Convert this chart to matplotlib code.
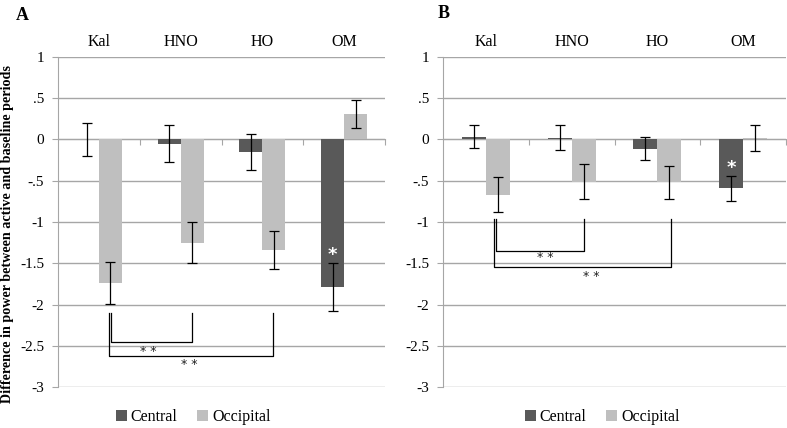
import numpy as np
import matplotlib
matplotlib.use('Agg')
import matplotlib.pyplot as plt

plt.rcParams['font.family'] = ['Liberation Serif', 'DejaVu Serif']

# Data
groups = ['Kal', 'HNO', 'HO', 'OM']
ytick_vals = [1, 0.5, 0, -0.5, -1, -1.5, -2, -2.5, -3]
ytick_text = ['1', '.5', '0', '-.5', '-1', '-1.5', '-2', '-2.5', '-3']

# panel A
a_central = [0.0, -0.05, -0.15, -1.79]
a_central_err = [0.20, 0.22, 0.22, 0.29]
a_occip = [-1.74, -1.25, -1.34, 0.31]
a_occip_err = [0.25, 0.25, 0.23, 0.17]
a_star = -1.40
# brackets: (x_left, x_right, y_top, y_bottom, label x, label y)
a_brackets = [(0.147, 1.135, -2.10, -2.46, 0.61, -2.57),
              (0.120, 2.130, -2.10, -2.63, 1.11, -2.73)]

# panel B
b_central = [0.035, 0.02, -0.11, -0.59]
b_central_err = [0.14, 0.15, 0.135, 0.15]
b_occip = [-0.67, -0.51, -0.52, 0.02]
b_occip_err = [0.21, 0.21, 0.20, 0.155]
b_star = -0.34
b_brackets = [(0.116, 1.14, -0.96, -1.35, 0.69, -1.43),
              (0.093, 2.16, -0.96, -1.54, 1.23, -1.66)]

dark = '#595959'
light = '#bfbfbf'
grid_c = '#a6a6a6'
w = 0.28

fig = plt.figure(figsize=(7.87, 4.28), dpi=100)


def draw_panel(ax, central, c_err, occip, o_err, star_y, brackets, legend_x):
    x = np.arange(len(groups))
    b1 = ax.bar(x - w / 2, central, w, color=dark, label='Central', zorder=3)
    b2 = ax.bar(x + w / 2, occip, w, color=light, label='Occipital', zorder=3)
    ax.errorbar(x - w / 2, central, yerr=c_err, fmt='none', ecolor='black',
                elinewidth=0.9, capsize=3.5, capthick=0.9, zorder=4)
    ax.errorbar(x + w / 2, occip, yerr=o_err, fmt='none', ecolor='black',
                elinewidth=0.9, capsize=3.5, capthick=0.9, zorder=4)
    ax.text(3 - w / 2, star_y, '*', color='white', fontsize=13,
            fontweight='bold', ha='center', va='center', zorder=5,
            family='DejaVu Sans')

    for xl, xr, yt, yb, tx, ty in brackets:
        ax.plot([xl, xl, xr, xr], [yt, yb, yb, yt], color='black', lw=0.9,
                zorder=4)
        ax.text(tx, ty, '* *', fontsize=9, ha='center', va='center',
                family='DejaVu Sans', color='#222222')

    ax.set_xlim(-0.5, 3.5)
    ax.set_ylim(-3, 1)
    ax.set_yticks(ytick_vals)
    ax.set_yticklabels(ytick_text, fontsize=11)
    ax.yaxis.grid(True, color=grid_c, lw=1.0, zorder=0)
    ax.set_axisbelow(True)

    ax.spines['top'].set_visible(False)
    ax.spines['right'].set_visible(False)
    ax.spines['left'].set_color(grid_c)
    ax.spines['bottom'].set_position(('data', 0))
    ax.spines['bottom'].set_color(grid_c)
    ax.set_xticks([0.5, 1.5, 2.5, 3.5])
    ax.set_xticklabels([])
    ax.tick_params(axis='x', direction='out', length=4, color=grid_c)
    ax.tick_params(axis='y', direction='out', length=4, color=grid_c, pad=6)

    for i, g in enumerate(groups):
        ax.text(i, 1.045, g, fontsize=11.5, ha='center', va='center',
                transform=ax.get_xaxis_transform())

    fig.legend(handles=[b1, b2], loc='center', ncol=2, frameon=False,
               bbox_to_anchor=(legend_x, 1 - 417 / 428),
               handlelength=0.7, handleheight=0.7, handletextpad=0.25,
               columnspacing=1.2, fontsize=11.5)


ax1 = fig.add_axes([58 / 787, 1 - 387 / 428, 327 / 787, 330 / 428])
draw_panel(ax1, a_central, a_central_err, a_occip, a_occip_err, a_star,
           a_brackets, 193 / 787)

ax2 = fig.add_axes([443 / 787, 1 - 387 / 428, 343 / 787, 330 / 428])
draw_panel(ax2, b_central, b_central_err, b_occip, b_occip_err, b_star,
           b_brackets, 602 / 787)

fig.text(22 / 787, 1 - 15 / 428, 'A', fontsize=13, fontweight='bold',
         ha='center', va='center')
fig.text(444 / 787, 1 - 13 / 428, 'B', fontsize=13, fontweight='bold',
         ha='center', va='center')
fig.text(8 / 787, 1 - 234 / 428,
         'Difference in power between active and baseline periods',
         rotation=90, fontsize=10.2, fontweight='bold', ha='center',
         va='center')

fig.savefig('out.png', dpi=100)
